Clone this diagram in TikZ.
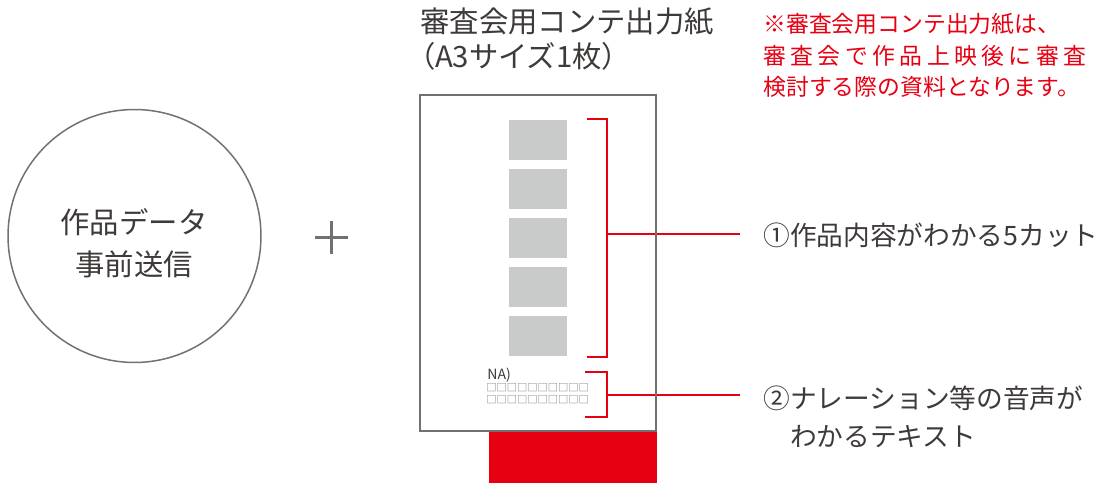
\documentclass[tikz,border=0pt]{standalone}
\usepackage{fontspec}
\setmainfont{Noto Sans CJK JP}
\usetikzlibrary{positioning, calc}

\definecolor{inkgray}{HTML}{3E3A39}
\definecolor{rulegray}{HTML}{727171}
\definecolor{cutgray}{HTML}{C9CACA}
\definecolor{markred}{HTML}{E60012}
\newcommand{\tightpar}[1]{{\addfontfeatures{RawFeature=+palt}#1}}

\begin{document}
\begin{tikzpicture}[
    x=0.02cm, y=-0.02cm,
    every node/.style={inner sep=0pt, text=inkgray},
    heading/.style={anchor=base west, align=left, font=\fontsize{16.7pt}{20.4pt}\selectfont},
    note/.style={anchor=base west, align=left, text=markred, font=\fontsize{13pt}{18.1pt}\selectfont},
    callout/.style={anchor=base west, align=left, inner xsep=0.46cm, font=\fontsize{15.2pt}{21.5pt}\selectfont},
    bracket/.style={draw=markred, line width=0.7pt},
    frame/.style={draw=rulegray, line width=1.13pt}
]
    \useasboundingbox (0,0) rectangle (1113,483);

    % Pre-sent data
    \node[circle, draw=rulegray, line width=0.85pt, minimum size=5.06cm] (sendcircle) at (134.5,236) {};
    \node[align=center, font=\fontsize{16.7pt}{23.8pt}\selectfont] (sendtext) at (134,243) {作品データ\\事前送信};

    % Plus sign
    \draw[frame, line width=1.4pt] (315,237.5) -- (348,237.5) (331.5,221) -- (331.5,254);

    % Sheet title and note (base = last line)
    \node[heading] (sheettitle) at (420,68) {審査会用コンテ出力紙\\\tightpar{（}A3サイズ1枚）};
    \node[note] (sheetnote) at (763,96) {※審査会用コンテ出力紙は、\\{\addfontfeatures{LetterSpace=19.5}審査会で作品上映後に審査}\\検討する際の資料となります。};

    % Sheet
    \fill[markred] (489,431) rectangle (657,483);
    \coordinate (sheetnw) at (420,95);
    \coordinate (sheetse) at (656,431);
    \fill[white] (sheetnw) rectangle (sheetse);
    \foreach \k in {0,...,4}
        \fill[cutgray] (509,120+49*\k) rectangle (567,160+49*\k);
    \node[anchor=base west, font=\fontsize{8pt}{9pt}\selectfont] (natag) at (487,379) {NA)};
    \node[anchor=north west, align=left, text=rulegray, font=\fontsize{5.84pt}{6.8pt}\selectfont] (naboxes) at (486,383) {□□□□□□□□□□\\□□□□□□□□□□};

    % Brackets and callouts
    \draw[bracket] (587,119) -| (607,357) -- (587,357);
    \coordinate (cuttip) at (607,234);
    \node[callout] (cutlabel) at (740,245) {①作品内容がわかる5カット};
    \draw[bracket] (cuttip) -- (cuttip -| cutlabel.west);

    \draw[bracket] (585,372) -| (607,417) -- (585,417);
    \coordinate (texttip) at (607,395);
    \node[callout] (textlabel) at (740,446) {②ナレーション等の音声が\\\hphantom{②}わかるテキスト};
    \draw[bracket] (texttip) -- (texttip -| textlabel.west);

    \draw[frame] (sheetnw) rectangle (sheetse);
\end{tikzpicture}
\end{document}
